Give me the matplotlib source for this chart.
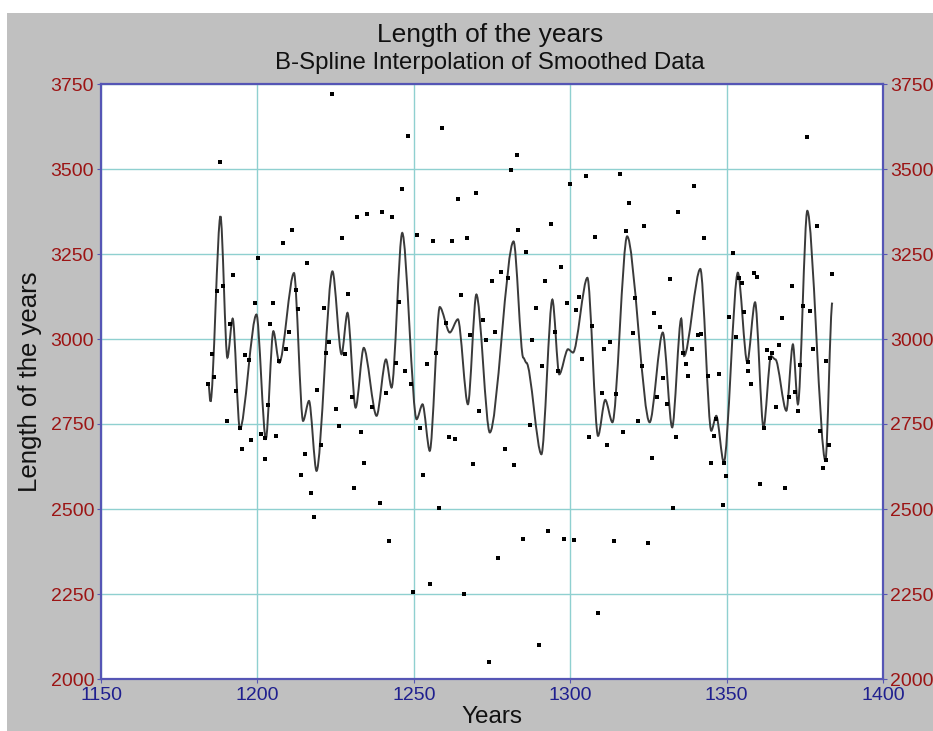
import matplotlib
matplotlib.use("Agg")
import matplotlib.pyplot as plt
from matplotlib.patches import Rectangle, PathPatch
from matplotlib.path import Path

plt.rcParams['font.family'] = ['Liberation Sans', 'DejaVu Sans']

# ---- scatter data (year, length) ----
point_years = [
    1184.3, 1185.4, 1186.1, 1187.1, 1188.2, 1189.1, 1190.2, 1191.3, 1192.2, 1193.2,
    1194.4, 1195.0, 1196.1, 1197.2, 1198.1, 1199.2, 1200.2, 1201.2, 1202.3, 1202.5,
    1203.4, 1204.0, 1205.0, 1206.0, 1207.0, 1208.2, 1209.1, 1210.2, 1211.2, 1212.2,
    1213.0, 1214.0, 1215.1, 1216.0, 1217.1, 1218.1, 1219.1, 1220.4, 1221.2, 1221.9,
    1222.9, 1224.0, 1225.0, 1226.0, 1227.1, 1228.0, 1229.1, 1230.3, 1230.9, 1231.9,
    1233.1, 1234.0, 1235.1, 1236.6, 1239.2, 1239.8, 1241.0, 1242.0, 1243.0, 1244.2,
    1245.2, 1246.1, 1247.2, 1248.2, 1249.0, 1249.8, 1251.0, 1252.0, 1253.0, 1254.2,
    1255.1, 1256.1, 1257.2, 1257.9, 1258.9, 1260.2, 1261.1, 1262.1, 1263.2, 1264.1,
    1265.1, 1266.2, 1266.9, 1267.9, 1268.9, 1270.0, 1271.0, 1272.0, 1273.1, 1274.1,
    1275.1, 1275.9, 1277.0, 1277.9, 1279.0, 1280.0, 1281.1, 1282.1, 1283.1, 1283.4,
    1284.8, 1285.8, 1287.0, 1287.9, 1289.0, 1290.0, 1291.0, 1292.1, 1292.8, 1293.8,
    1295.1, 1296.1, 1296.9, 1297.9, 1299.0, 1300.0, 1301.1, 1301.8, 1302.7, 1303.8,
    1305.0, 1305.9, 1307.0, 1308.0, 1309.0, 1310.1, 1310.7, 1311.7, 1312.8, 1313.9,
    1314.8, 1315.8, 1317.0, 1317.9, 1318.9, 1320.0, 1320.7, 1321.8, 1322.9, 1323.7,
    1324.9, 1326.0, 1326.9, 1327.8, 1328.7, 1329.6, 1330.8, 1331.8, 1332.8, 1333.8,
    1334.6, 1336.0, 1336.9, 1337.7, 1338.8, 1339.7, 1341.0, 1341.9, 1342.7, 1344.0,
    1344.9, 1346.0, 1346.7, 1347.7, 1348.7, 1349.1, 1349.8, 1350.8, 1351.9, 1352.9,
    1353.9, 1355.0, 1355.7, 1356.7, 1356.9, 1357.7, 1358.6, 1359.8, 1360.8, 1361.8,
    1363.0, 1363.9, 1364.5, 1365.8, 1366.7, 1367.8, 1368.8, 1369.8, 1370.9, 1372.0,
    1372.8, 1373.4, 1374.5, 1375.7, 1376.7, 1377.7, 1378.8, 1379.8, 1380.9, 1381.7,
    1381.9, 1382.7, 1383.6,
]
point_values = [
    2868, 2957, 2888, 3142, 3522, 3155, 2759, 3045, 3189, 2848,
    2738, 2677, 2954, 2937, 2703, 3107, 3237, 2722, 2648, 2708,
    2807, 3045, 3107, 2715, 2935, 3283, 2970, 3020, 3322, 3143,
    3087, 2601, 2661, 3224, 2546, 2477, 2851, 2689, 3090, 2960,
    2991, 3720, 2794, 2744, 3296, 2955, 3131, 2830, 2563, 3358,
    2725, 2635, 3367, 2800, 2518, 3374, 2842, 2406, 3358, 2928,
    3110, 3441, 2905, 3598, 2868, 2257, 3307, 2737, 2601, 2925,
    2279, 3287, 2959, 2502, 3621, 3048, 2711, 3287, 2705, 3412,
    3128, 2250, 3297, 3013, 2632, 3430, 2788, 3056, 2998, 2050,
    3170, 3020, 2355, 3198, 2677, 3179, 3498, 2629, 3541, 3320,
    2412, 3255, 2747, 2998, 3090, 2101, 2920, 3170, 2435, 3338,
    3022, 2905, 3211, 2412, 3107, 3456, 2409, 3084, 3125, 2940,
    3478, 2711, 3039, 3300, 2193, 2840, 2972, 2689, 2991, 2406,
    2837, 3484, 2725, 3319, 3401, 3017, 3121, 2759, 2920, 3331,
    2400, 2649, 3077, 2830, 3035, 2884, 2808, 3176, 2502, 2711,
    3374, 2960, 2926, 2891, 2970, 3449, 3011, 3014, 3296, 2891,
    2635, 2715, 2766, 2896, 2511, 2635, 2597, 3065, 3252, 3005,
    3178, 3164, 3080, 2932, 2905, 2868, 3193, 3183, 2574, 2738,
    2967, 2943, 2960, 2801, 2982, 3061, 2563, 2829, 3157, 2845,
    2788, 2923, 3096, 3595, 3081, 2970, 3331, 2728, 2620, 2935,
    2645, 2689, 3192,
]

# ---- smoothed B-spline curve, read at its turning points ----
curve_years = [
    1184.3, 1185.0, 1188.2, 1190.4, 1192.1, 1194.4, 1199.7, 1202.7, 1205.1, 1207.0,
    1211.7, 1214.6, 1216.5, 1218.9, 1224.0, 1226.9, 1228.8, 1231.4, 1234.0, 1238.1,
    1241.1, 1242.9, 1246.3, 1250.9, 1252.8, 1255.1, 1258.3, 1261.5, 1264.1, 1267.3,
    1270.0, 1274.3, 1281.9, 1285.0, 1286.0, 1290.8, 1294.3, 1296.5, 1299.3, 1300.9,
    1305.5, 1308.9, 1311.2, 1313.5, 1318.2, 1325.4, 1329.6, 1332.6, 1335.5, 1336.4,
    1341.6, 1345.1, 1346.7, 1349.1, 1353.6, 1356.6, 1359.1, 1361.8, 1364.2, 1365.6,
    1369.1, 1371.2, 1372.8, 1375.8, 1381.6, 1383.8,
]
curve_values = [
    2872, 2816, 3361, 2945, 3060, 2735, 3072, 2706, 3023, 2930,
    3194, 2759, 2818, 2612, 3199, 2955, 3077, 2798, 2974, 2774,
    2940, 2857, 3312, 2764, 2808, 2671, 3094, 3019, 3058, 2808,
    3131, 2725, 3287, 2945, 2930, 2661, 3116, 2896, 2970, 2960,
    3180, 2715, 2821, 2755, 3302, 2755, 3019, 2740, 3060, 2950,
    3206, 2730, 2774, 2637, 3195, 2932, 3108, 2740, 2950, 2940,
    2789, 2984, 2808, 3377, 2642, 3107,
]

x_ticks = [1150, 1200, 1250, 1300, 1350, 1400]
y_ticks = [2000, 2250, 2500, 2750, 3000, 3250, 3500, 3750]

W, H = 933, 731
fig = plt.figure(figsize=(W / 100, H / 100), dpi=100, facecolor='white')
# grey panel
fig.patches.append(Rectangle((7 / W, 0), 1 - 7 / W, (H - 13) / H,
                             transform=fig.transFigure, facecolor='#c0c0c0',
                             edgecolor='none', zorder=-10))

left, right, top, bottom = 101, 883, 84, 679
ax = fig.add_axes([left / W, (H - bottom) / H, (right - left) / W, (bottom - top) / H])
ax.set_facecolor('white')

# smooth curve through the turning points (Bezier path, flat tangents at each point)
k = 0.3
verts = [(curve_years[0], curve_values[0])]
codes = [Path.MOVETO]
for i in range(len(curve_years) - 1):
    x0, y0 = curve_years[i], curve_values[i]
    x1, y1 = curve_years[i + 1], curve_values[i + 1]
    dx = x1 - x0
    verts += [(x0 + k * dx, y0), (x1 - k * dx, y1), (x1, y1)]
    codes += [Path.CURVE4] * 3
ax.add_patch(PathPatch(Path(verts, codes), facecolor='none', edgecolor='#3a3a3a',
                       lw=1.4, zorder=3))

ax.scatter(point_years, point_values, marker='s', s=6, color='black', zorder=4,
           linewidths=0)

ax.set_xlim(1150, 1400)
ax.set_ylim(2000, 3750)
ax.set_xticks(x_ticks)
ax.set_yticks(y_ticks)
ax.grid(True, color='#8fd0d0', lw=1.0, zorder=0)
ax.set_axisbelow(True)

spine_c = '#5555b5'
for s in ax.spines.values():
    s.set_color(spine_c)
    s.set_linewidth(1.6)

ax.tick_params(axis='x', colors=spine_c, labelcolor='#1f1f8f', labelsize=14,
               length=3, direction='out', pad=3)
ax.tick_params(axis='y', colors=spine_c, labelcolor='#9c1414', labelsize=14,
               length=3, direction='out', pad=2, right=True, labelright=True)

ax.set_xlabel('Years', fontsize=17.5, color='#111111', va='center')
ax.xaxis.set_label_coords(0.5, -(717 - bottom) / (bottom - top))
ax.set_ylabel('Length of the years', fontsize=18.5, color='#111111', va='center')
ax.yaxis.set_label_coords(-(left - 30) / (right - left), 0.5)

fig.text(490 / W, 1 - 35 / H, 'Length of the years', ha='center', va='center',
         fontsize=19, color='#111111')
fig.text(490 / W, 1 - 63 / H, 'B-Spline Interpolation of Smoothed Data', ha='center',
         va='center', fontsize=17.3, color='#111111')

fig.savefig('out.png', dpi=100, facecolor=fig.get_facecolor())
